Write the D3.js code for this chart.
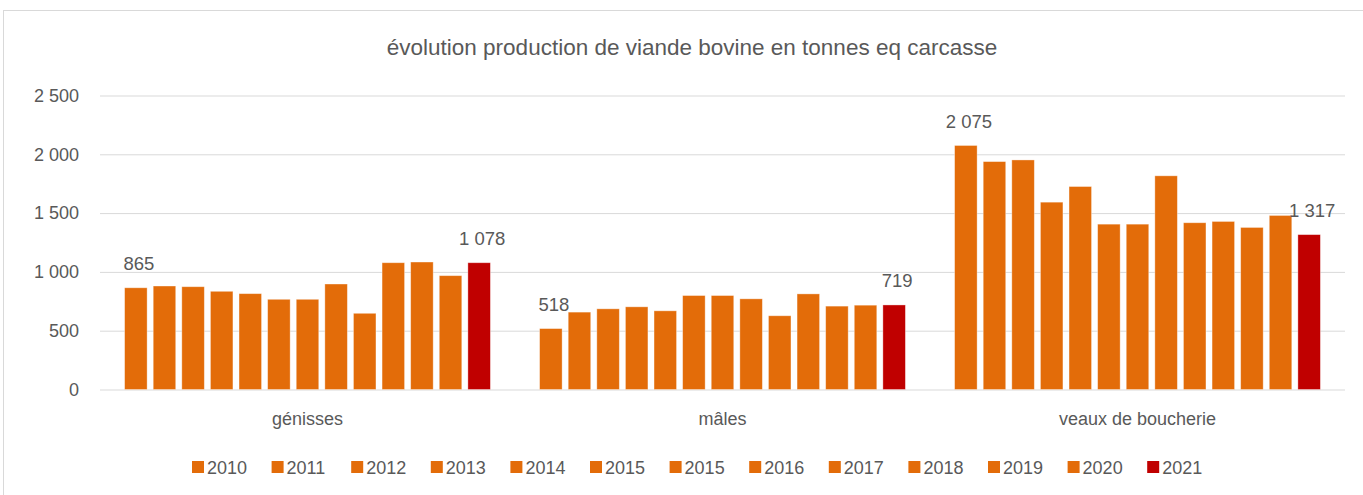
<!DOCTYPE html>
<html lang="fr">
<head>
<meta charset="UTF-8">
<script src="https://d3js.org/d3.v7.min.js"></script>
<title>évolution production de viande bovine</title>
<style>
body { margin: 0; background: #fff; font-family: "Liberation Sans", Arial, sans-serif; }
svg text { fill: #595959; }
</style>
</head>
<body>
<div id="chart"></div>
<script>
// data
const categories = ["génisses", "mâles", "veaux de boucherie"];
const years = ["2010", "2011", "2012", "2013", "2014", "2015", "2015", "2016", "2017", "2018", "2019", "2020", "2021"];
const genisses = [865, 880, 874, 835, 815, 767, 767, 897, 648, 1078, 1084, 968, 1078];
const males = [518, 658, 686, 703, 669, 799, 799, 771, 627, 813, 709, 717, 719];
const veaux = [2075, 1938, 1952, 1593, 1726, 1406, 1406, 1817, 1418, 1429, 1378, 1480, 1317];
const yTicks = [0, 500, 1000, 1500, 2000, 2500];

const seriesValues = [genisses, males, veaux];
const width = 1363, height = 495;
const margin = { left: 100, right: 18, top: 95.5, bottom: 105.5 };

const svg = d3.select("#chart").append("svg")
  .attr("width", width)
  .attr("height", height);

// outer frame of the chart area
svg.append("rect")
  .attr("x", 3.5).attr("y", 10.5)
  .attr("width", 1400).attr("height", 520)
  .attr("fill", "none")
  .attr("stroke", "#d9d9d9");

svg.append("text")
  .attr("x", 692).attr("y", 55)
  .attr("text-anchor", "middle")
  .style("font-size", "22.5px")
  .text("évolution production de viande bovine en tonnes eq carcasse");

const x0 = d3.scaleBand()
  .domain(categories)
  .range([margin.left, width - margin.right]);

// index based so the doubled "2015" keeps its own slot
const x1 = d3.scaleBand()
  .domain(d3.range(years.length))
  .range([0, x0.bandwidth()])
  .paddingInner(0.213)
  .paddingOuter(0.86);

const y = d3.scaleLinear()
  .domain([0, 2500])
  .range([height - margin.bottom, margin.top]);

// gridlines + y labels
const yAxis = d3.axisLeft(y)
  .tickValues(yTicks)
  .tickSize(-(width - margin.left - margin.right))
  .tickPadding(21)
  .tickFormat(d => d3.format(",")(d).replace(",", " "));

svg.append("g")
  .attr("transform", `translate(${margin.left},0)`)
  .call(yAxis)
  .call(g => g.select(".domain").remove())
  .call(g => g.selectAll("line").attr("stroke", "#d9d9d9").attr("stroke-width", 1))
  .call(g => g.selectAll("text").style("font-size", "18px").attr("fill", "#595959"));

const colour = i => i === years.length - 1 ? "#c00000" : "#e36c09";

const groups = svg.selectAll(".grp")
  .data(categories)
  .enter().append("g")
  .attr("class", "grp")
  .attr("transform", d => `translate(${x0(d)},0)`);

groups.selectAll("rect")
  .data((d, gi) => seriesValues[gi].map((v, i) => ({ v, i })))
  .enter().append("rect")
  .attr("x", d => x1(d.i))
  .attr("width", x1.bandwidth())
  .attr("y", d => y(d.v))
  .attr("height", d => y(0) - y(d.v))
  .attr("fill", d => colour(d.i))
  .attr("stroke", "rgba(255,255,255,0.45)")
  .attr("stroke-width", 0.8);

// labels only on first and last bar of each group
const fmt = v => d3.format(",")(v).replace(",", " ");
groups.selectAll(".lbl")
  .data((d, gi) => seriesValues[gi].map((v, i) => ({ v, i })).filter(d => d.i === 0 || d.i === years.length - 1))
  .enter().append("text")
  .attr("class", "lbl")
  .attr("x", d => x1(d.i) + x1.bandwidth() / 2 + 3)
  .attr("y", d => y(d.v) - 17.5)
  .attr("text-anchor", "middle")
  .style("font-size", "18.5px")
  .attr("fill", "#404040")
  .text(d => fmt(d.v));

// category labels
svg.selectAll(".cat")
  .data(categories)
  .enter().append("text")
  .attr("class", "cat")
  .attr("x", d => x0(d) + x0.bandwidth() / 2)
  .attr("y", 425)
  .attr("text-anchor", "middle")
  .style("font-size", "18px")
  .text(d => d);

// legend
const legend = svg.append("g");
const item = legend.selectAll("g")
  .data(years)
  .enter().append("g")
  .attr("transform", (d, i) => `translate(${192 + i * 79.6},461)`);
item.append("rect")
  .attr("width", 12).attr("height", 12)
  .attr("fill", (d, i) => colour(i));
item.append("text")
  .attr("x", 15).attr("y", 12.5)
  .style("font-size", "18px")
  .text(d => d);
</script>
</body>
</html>
